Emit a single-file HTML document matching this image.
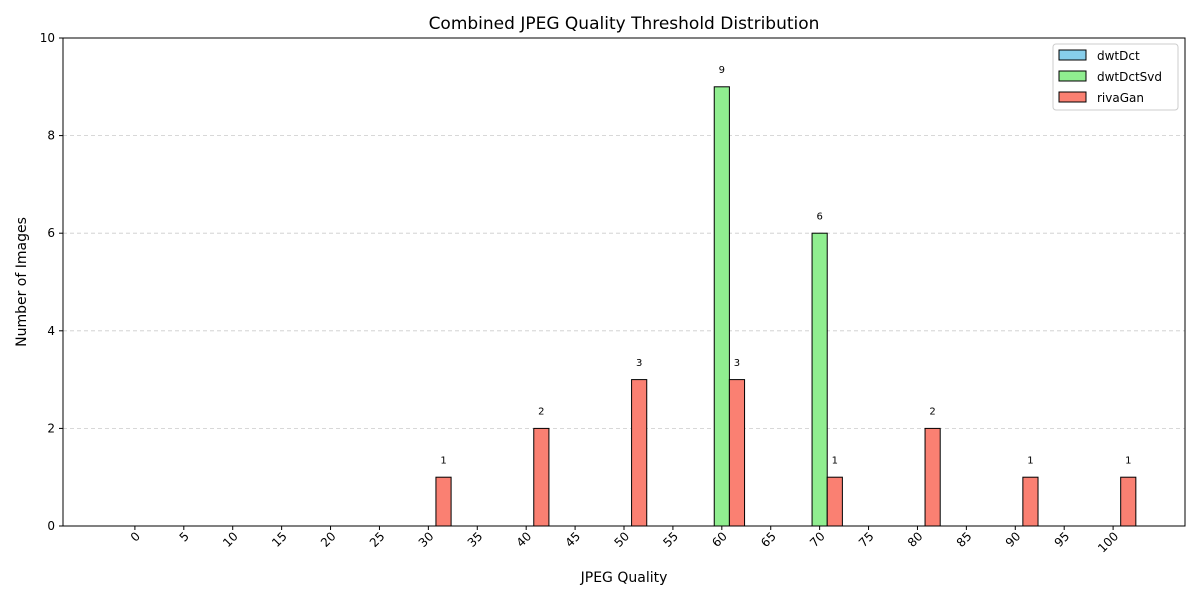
<!DOCTYPE html>
<html><head><meta charset="utf-8"><style>
body{margin:0;background:#fff;font-family:"Liberation Sans","DejaVu Sans",sans-serif}
</style></head><body>
<svg id="chart" width="1200" height="600" xmlns="http://www.w3.org/2000/svg" font-family="DejaVu Sans, Liberation Sans, sans-serif"></svg>
<script>
const categories=[0,5,10,15,20,25,30,35,40,45,50,55,60,65,70,75,80,85,90,95,100];
const dwtDct=[0,0,0,0,0,0,0,0,0,0,0,0,0,0,0,0,0,0,0,0,0];
const dwtDctSvd=[0,0,0,0,0,0,0,0,0,0,0,0,9,0,6,0,0,0,0,0,0];
const rivaGan=[0,0,0,0,0,0,1,0,2,0,3,0,3,0,1,0,2,0,1,0,1];
const yTicks=[0,2,4,6,8,10];
const seriesNames=["dwtDct","dwtDctSvd","rivaGan"];
const seriesColors=["#87ceeb","#90ee90","#fa8072"];

const svg=document.getElementById('chart');
const NS="http://www.w3.org/2000/svg";
const L=63,R=1185,T=38,B=526;
const x0=-1.47,x1=21.47;
const xs=i=>L+(i-x0)/(x1-x0)*(R-L);
const ys=v=>B-v/10*(B-T);
const bw=(xs(1)-xs(0))*0.31;
function mk(t,a,p){const e=document.createElementNS(NS,t);for(const k in a)e.setAttribute(k,a[k]);(p||svg).appendChild(e);return e;}

const title=mk('text',{x:(L+R)/2,y:29,'text-anchor':'middle','font-size':17});
title.textContent='Combined JPEG Quality Threshold Distribution';



yTicks.forEach(v=>{
  const g=mk('line',{x1:L,x2:R,y1:ys(v),y2:ys(v),stroke:'#ccc','stroke-dasharray':'4,3','stroke-width':0.8});
  
  
  mk('line',{x1:L-4,x2:L,y1:ys(v),y2:ys(v),stroke:'#000'});
  const t=mk('text',{x:L-8,y:ys(v)+4,'text-anchor':'end','font-size':12});
  t.textContent=v;
  
  
});

const all=[dwtDct,dwtDctSvd,rivaGan];
all.forEach((arr,s)=>{
  arr.forEach((v,i)=>{
    const cx=xs(i)+(s-1)*bw;
    const r=mk('rect',{x:cx-bw/2,y:ys(v),width:bw,height:B-ys(v),fill:seriesColors[s],stroke:'#000','stroke-width':1});
    
    
    if(v>0){
      const t=mk('text',{x:cx,y:ys(v+0.28),'text-anchor':'middle','font-size':10});
      t.textContent=v;
      
      
    }
  });
});

categories.forEach((c,i)=>{
  const x=xs(i);
  mk('line',{x1:x,x2:x,y1:B,y2:B+4,stroke:'#000'});
  const t=mk('text',{x:x+6,y:B+11,'text-anchor':'end','font-size':12,transform:`rotate(-45 ${x+6} ${B+11})`});
  t.textContent=c;
  
  
});

const frame=mk('rect',{x:L,y:T,width:R-L,height:B-T,fill:'none',stroke:'#000','stroke-width':1});



const xl=mk('text',{x:(L+R)/2,y:582,'text-anchor':'middle','font-size':14});
xl.textContent='JPEG Quality';


const yl=mk('text',{x:26,y:(T+B)/2,'text-anchor':'middle','font-size':14,transform:`rotate(-90 26 ${(T+B)/2})`});
yl.textContent='Number of Images';



const lg=mk('g',{});


mk('rect',{x:1053,y:44,width:125,height:66,rx:3,fill:'#fff',stroke:'#ccc'},lg);
seriesNames.forEach((n,s)=>{
  const y=56+s*21;
  const e=mk('rect',{x:1059,y:y-6,width:27,height:10,fill:seriesColors[s],stroke:'#000'},lg);
  
  
  const t=mk('text',{x:1097,y:y+4,'font-size':12},lg);
  t.textContent=n;
  
  
});
</script>
</body></html>
